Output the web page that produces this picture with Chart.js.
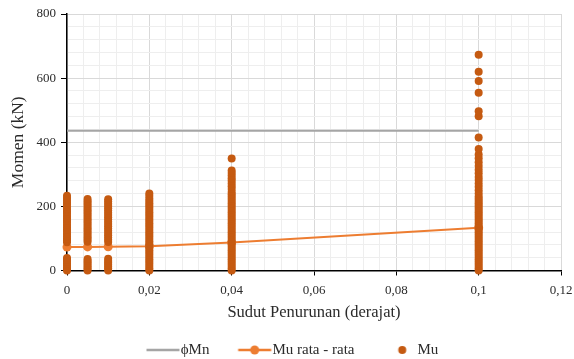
<!DOCTYPE html>
<html><head><meta charset="utf-8">
<script src="https://cdn.jsdelivr.net/npm/chart.js@4/dist/chart.umd.min.js"></script>
<style>html,body{margin:0;padding:0;background:#fff}#wrap{width:574px;height:359px;position:relative}</style>
</head><body><div id="wrap"><canvas id="c" width="574" height="359"></canvas></div>
<script>
// ---- data ----
const xCategories = [0, 0.005, 0.01, 0.02, 0.04, 0.1];
const muAt0    = [0,5,10,16,22,28,34,39, 88,94,100,107,114,121,128,135,142,149,156,163,170,177,184,191,198,205,212,219,226,233];
const muAt0005 = [0,6,12,18,24,30,36, 90,97,104,111,118,125,132,139,146,153,160,167,174,181,188,195,202,209,216,223];
const muAt001  = [0,6,12,18,24,30,37, 89,96,103,110,117,124,131,138,145,152,159,166,173,180,187,194,201,208,215,222];
const muAt002  = [0,7,14,21,28,35,42,49,56,63,70,77,84,91,98,105,112,119,126,133,140,147,154,161,168,175,182,189,196,203,210,217,224,232,240];
const muAt004  = [0,7,14,21,28,35,42,49,56,63,70,77,84,91,98,105,112,119,126,133,140,147,154,161,168,175,182,189,196,203,210,217,224,231,238,245,254,263,271,280,288,296,304,312,349];
const muAt01   = [0,7,14,21,28,35,42,49,56,63,70,77,84,91,98,105,112,119,126,133,140,147,154,161,168,175,182,189,196,203,210,217,224,231,240,250,261,271,282,292,303,314,326,338,350,362,379,415,481,497,554,591,620,673];
const muColumns = [muAt0, muAt0005, muAt001, muAt002, muAt004, muAt01];
const muMean = [73, 73.5, 74, 76, 87, 133];
const phiMnValue = 436;
const phiMnX = [0, 0.1];
const xTickLabels = ['0','0,02','0,04','0,06','0,08','0,1','0,12'];
const yTickLabels = ['0','200','400','600','800'];
const seriesNames = ['\u03D5Mn','Mu rata - rata','Mu'];

// ---- build ----
const muPoints = [];
muColumns.forEach((col, i) => col.forEach(v => muPoints.push({x: xCategories[i], y: v})));
const meanPoints = xCategories.map((x, i) => ({x, y: muMean[i]}));
const phiPoints = phiMnX.map(x => ({x, y: phiMnValue}));

const GRAY = '#A5A5A5', ORANGE = '#ED7D31', DARK = '#C55A11';
function icon(kind) {
  const c = document.createElement('canvas'); c.width = 60; c.height = 12;
  const g = c.getContext('2d');
  if (kind === 'phi' || kind === 'mean') {
    g.strokeStyle = kind === 'phi' ? GRAY : ORANGE; g.lineWidth = 2.5;
    g.beginPath(); g.moveTo(25.5, 6); g.lineTo(58.5, 6); g.stroke();
  }
  if (kind === 'mean') { g.fillStyle = ORANGE; g.beginPath(); g.arc(42, 6, 4.5, 0, Math.PI*2); g.fill(); }
  if (kind === 'mu') { g.fillStyle = DARK; g.beginPath(); g.arc(44.5, 6, 4, 0, Math.PI*2); g.fill(); }
  return c;
}
const icons = [icon('phi'), icon('mean'), icon('mu')];

const isMajorX = v => Math.abs(v/0.02 - Math.round(v/0.02)) < 1e-6;
const isMajorY = v => Math.abs(v/200 - Math.round(v/200)) < 1e-6;
const serif = 'Liberation Serif';
const TXT = '#2b2b2b';

new Chart(document.getElementById('c'), {
  type: 'scatter',
  data: {
    datasets: [
      {label: seriesNames[0], data: phiPoints, showLine: true, borderColor: GRAY, borderWidth: 2, pointRadius: 0, order: 3},
      {label: seriesNames[1], data: meanPoints, showLine: true, borderColor: ORANGE, backgroundColor: ORANGE, borderWidth: 2, pointRadius: 4.5, pointBorderWidth: 0, order: 2, clip: false},
      {label: seriesNames[2], data: muPoints, backgroundColor: DARK, borderWidth: 0, pointRadius: 4, order: 1, clip: false}
    ]
  },
  options: {
    responsive: false, animation: false, devicePixelRatio: 1,
    layout: {padding: {top: 14, right: 7, left: 0, bottom: -8.5}},
    plugins: {
      tooltip: {enabled: false},
      legend: {
        position: 'bottom',
        labels: {
          usePointStyle: true, pointStyleWidth: 44.5, padding: 11,
          font: {family: serif, size: 15}, color: TXT,
          generateLabels: () => seriesNames.map((t, i) => ({text: t, pointStyle: icons[i], fillStyle: 'transparent', strokeStyle: 'transparent', lineWidth: 0, datasetIndex: i, fontColor: TXT}))
        }
      }
    },
    scales: {
      x: {
        type: 'linear', min: 0, max: 0.12,
        afterFit: s => { s.height = 61; s.paddingRight = 13; },
        border: {color: '#000', width: 1.5},
        grid: {
          color: c => (c.tick && isMajorX(c.tick.value)) ? '#d9d9d9' : '#eeeeee',
          tickColor: c => (c.tick && isMajorX(c.tick.value)) ? '#000' : 'rgba(0,0,0,0)',
          tickLength: 5, lineWidth: 1
        },
        ticks: {
          stepSize: 0.004, maxTicksLimit: 100, autoSkip: false, maxRotation: 0, padding: 7,
          font: {family: serif, size: 13}, color: TXT,
          callback: v => isMajorX(v) ? xTickLabels[Math.round(v/0.02)] : ''
        },
        title: {display: true, text: 'Sudut Penurunan (derajat)', font: {family: serif, size: 16.5}, color: TXT, padding: {top: 4, bottom: 9.1}}
      },
      y: {
        min: 0, max: 800,
        afterFit: s => { s.width = 67; },
        border: {color: '#000', width: 1.5},
        grid: {
          color: c => (c.tick && isMajorY(c.tick.value)) ? '#d9d9d9' : '#eeeeee',
          tickColor: c => (c.tick && isMajorY(c.tick.value)) ? '#000' : 'rgba(0,0,0,0)',
          tickLength: 6, lineWidth: 1
        },
        ticks: {
          stepSize: 40, maxTicksLimit: 100, autoSkip: false, padding: 5,
          font: {family: serif, size: 13}, color: TXT,
          callback: v => isMajorY(v) ? yTickLabels[Math.round(v/200)] : ''
        },
        title: {display: true, text: 'Momen (kN)', font: {family: serif, size: 17.5}, color: TXT, padding: {top: 7.5, bottom: 0}}
      }
    }
  }
});
</script></body></html>
